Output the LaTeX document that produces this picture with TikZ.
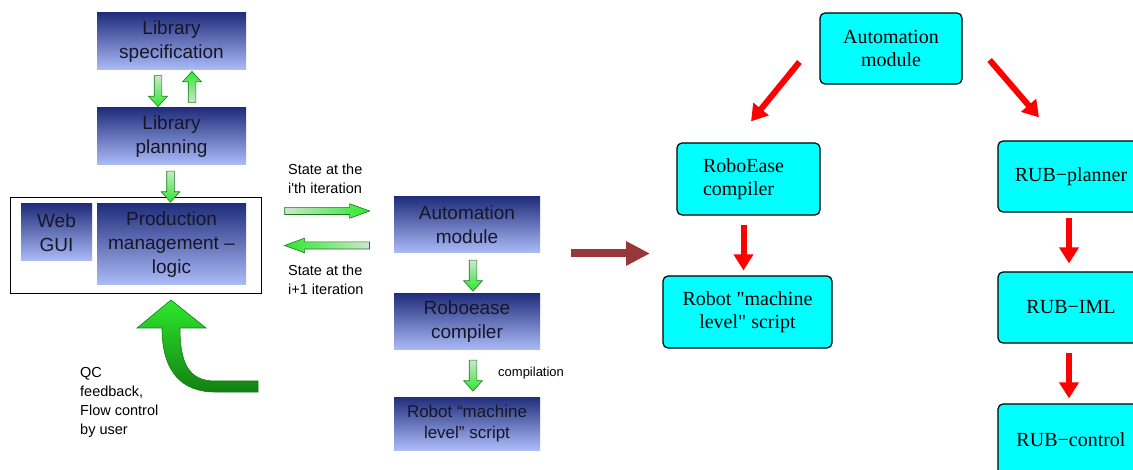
\documentclass[tikz,border=0pt]{standalone}
\usepackage{fontspec}
\setmainfont{Liberation Serif}
\newfontfamily\arialfont{Liberation Sans}
\usetikzlibrary{shapes,shapes.arrows,arrows.meta,calc}

\definecolor{navytop}{RGB}{32,46,124}
\definecolor{navymid}{RGB}{92,112,204}
\definecolor{navybot}{RGB}{172,188,248}
\definecolor{boxtext}{RGB}{22,22,40}
\definecolor{palegreen}{RGB}{208,228,208}
\definecolor{brightgreen}{RGB}{45,232,45}
\definecolor{edgegreen}{RGB}{20,125,20}
\definecolor{darkgreen}{RGB}{18,128,18}
\definecolor{brownred}{RGB}{152,55,55}
\definecolor{aqua}{RGB}{0,255,255}

\begin{document}
\begin{tikzpicture}[x=1pt,y=-1pt]
  \tikzset{blubox/.style={rectangle,inner sep=0pt,align=center,top color=navytop,middle color=navymid,bottom color=navybot,
      text=boxtext,font=\arialfont\fontsize{19}{24}\selectfont}}
  \tikzset{cyanbox/.style={rectangle,rounded corners=5pt,draw=black,line width=1.2pt,fill=aqua,
      inner sep=0pt,align=center,minimum width=143pt,minimum height=71pt,font=\fontsize{20}{23}\selectfont}}
  \tikzset{vgarrow/.style={single arrow,draw=edgegreen,line width=0.6pt,minimum height=31pt,inner sep=3.5pt,
      single arrow head extend=5.5pt,single arrow tip angle=84}}
  \tikzset{hgarrow/.style={single arrow,draw=edgegreen,line width=0.6pt,minimum height=85pt,inner sep=3.25pt,
      single arrow head extend=3.75pt,single arrow tip angle=40}}
  \tikzset{smalltxt/.style={inner sep=0pt,align=left,text=black,font=\arialfont\fontsize{14.5}{18.5}\selectfont}}
  \tikzset{redarrow/.style={draw=red,line width=6pt,-{Triangle[width=19pt,length=16pt]}}}
  \useasboundingbox (0,0) rectangle (1133,470);

  % left half: old flow
  \node[blubox,minimum width=149pt,minimum height=57pt] (spec) at (171.5,41.5) {Library\\specification};
  \node[blubox,minimum width=149pt,minimum height=57pt] (plan) at (171.5,136.5) {Library\\planning};
  \node[draw=black,line width=0.8pt,fill=white,minimum width=251pt,minimum height=96pt,inner sep=0pt] (outer) at (136,245) {};
  \node[blubox,minimum width=71pt,minimum height=57pt] (gui) at (56.5,232.5) {Web\\GUI};
  \node[blubox,minimum width=149pt,minimum height=81pt] (prod) at (171.5,244.5) {Production\\management –\\logic};
  \node[blubox,minimum width=146pt,minimum height=56pt] (amL) at (467,225) {Automation\\module};
  \node[blubox,minimum width=146pt,minimum height=56pt] (rceL) at (467,322) {Roboease\\compiler};
  \node[blubox,minimum width=146pt,minimum height=53pt,font=\arialfont\fontsize{17}{21}\selectfont] (robL) at (467,423.5) {Robot “machine\\level” script};

  \node[vgarrow,rotate=-90,top color=palegreen,bottom color=brightgreen] at ($(spec.south)!.5!(plan.north)+(-13.5,0)$) {};
  \node[vgarrow,rotate=90,top color=brightgreen,bottom color=palegreen] at ($(spec.south)!.5!(plan.north)+(20.5,0)$) {};
  \node[vgarrow,rotate=-90,top color=palegreen,bottom color=brightgreen] at ($(plan.south)!.5!(prod.north)+(-1,0)$) {};
  \node[vgarrow,rotate=-90,top color=palegreen,bottom color=brightgreen] at ($(amL.south)!.5!(rceL.north)+(6,0)$) {};
  \node[vgarrow,rotate=-90,top color=palegreen,bottom color=brightgreen] at ($(rceL.south)!.5!(robL.north)+(6,0)$) {};
  \node[hgarrow,anchor=tail,left color=palegreen,right color=brightgreen] at ($(outer.east)+(22.5,-34)$) {};
  \node[hgarrow,anchor=tail,rotate=180,left color=brightgreen,right color=palegreen] at ($(amL.west)+(-24,20.5)$) {};

  \node[smalltxt,anchor=north west] (st1) at (288,164) {State at the\\i'th iteration};
  \node[smalltxt,anchor=north west] (st2) at (288,265) {State at the\\i+1 iteration};
  \node[smalltxt,anchor=north west,font=\arialfont\fontsize{13}{16}\selectfont] (comp) at (498,367) {compilation};
  \node[smalltxt,anchor=north west,font=\arialfont\fontsize{14.5}{19}\selectfont] (qc) at (80,367) {QC\\feedback,\\Flow control\\by user};

  % feedback arrow
  \coordinate (fb) at (171,300);
  \draw[edgegreen,line width=0.6pt,top color=brightgreen,bottom color=darkgreen]
    (258,381) -- (215,381) .. controls (188,381) and (180,362) .. (180,328) -- (206,328) -- (fb)
    -- (137,328) -- (162,328) .. controls (162,372) and (182,392) .. (215,392) -- (258,392) -- cycle;

  % brown arrow
  \coordinate (bs) at (571,253.5);
  \coordinate (be) at (650,253.5);
  \draw[brownred,line width=8pt,-{Triangle[width=23pt,length=24pt]}] (bs) -- (be);

  % right half: new flow
  \node[cyanbox,minimum width=142pt] (am) at (891,48.5) {Automation\\module};
  \node[cyanbox,minimum height=72pt,align=left,text width=91pt] (rob) at (748.5,179) {RoboEase\\compiler};
  \node[cyanbox,minimum width=169pt,minimum height=72pt] (rml) at (747.5,312) {Robot \textquotedbl machine\\level\textquotedbl{} script};
  \node[cyanbox,minimum width=146pt] (rpl) at (1071,176.5) {RUB−planner};
  \node[cyanbox,minimum width=146pt] (iml) at (1071,307.5) {RUB−IML};
  \node[cyanbox,minimum width=146pt] (ctl) at (1071,439.5) {RUB−control};

  \draw[redarrow] ([shift={(-20,13.5)}]am.west) -- ([shift={(2.5,-21)}]rob.north);
  \draw[redarrow] ([shift={(27,11.5)}]am.east) -- ([shift={(-32,-23)}]rpl.north);
  \draw[redarrow,shorten <=9pt,shorten >=5pt] ([xshift=-5pt]rob.south) -- ([xshift=-4pt]rml.north);
  \draw[redarrow,shorten <=5pt,shorten >=8pt] ([xshift=-2pt]rpl.south) -- ([xshift=-2pt]iml.north);
  \draw[redarrow,shorten <=9pt,shorten >=5pt] ([xshift=-2pt]iml.south) -- ([xshift=-2pt]ctl.north);
\end{tikzpicture}
\end{document}
